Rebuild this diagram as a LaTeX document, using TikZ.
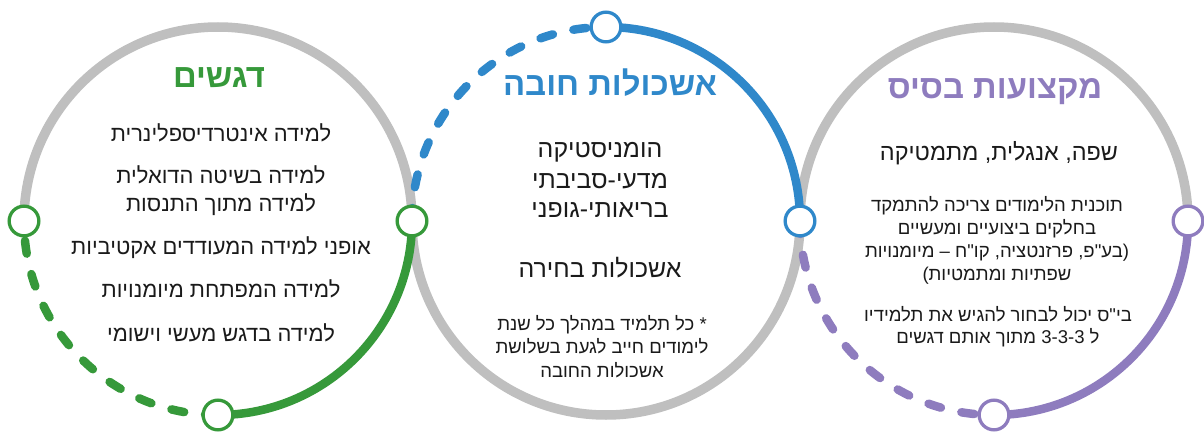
\documentclass[tikz,border=0pt]{standalone}
\usepackage{fontspec}
\setmainfont{Liberation Sans}[Script=Hebrew, Ligatures=TeXOff]
\TeXXeTstate=1
\newcommand\rl[1]{\beginR #1\endR}

\definecolor{ringgray}{HTML}{BFBFBF}
\definecolor{grn}{HTML}{36993A}
\definecolor{blu}{HTML}{2F88CA}
\definecolor{prp}{HTML}{8E7CBE}
\definecolor{ink}{HTML}{1A1A1A}

\tikzset{
  ring/.style={draw=ringgray, line width=9.5bp},
  solidarc/.style={line width=8.5bp},
  dasharc/.style={line width=8.5bp, line cap=round, dash pattern=on 13bp off 21bp},
  knot/.style={circle, fill=white, line width=3.3bp, minimum size=29.7bp, inner sep=0pt},
  title/.style={font=\bfseries\fontsize{33}{33}\selectfont, anchor=base, inner sep=0pt},
  lefttext/.style={font=\fontsize{22}{22}\selectfont, anchor=base, inner sep=0pt, text=ink},
  midtext/.style={font=\fontsize{25}{25}\selectfont, anchor=base, inner sep=0pt, text=ink},
  bigtext/.style={font=\fontsize{23.5}{23.5}\selectfont, anchor=base, inner sep=0pt, text=ink},
  smalltext/.style={font=\fontsize{18.6}{18.6}\selectfont, anchor=base, inner sep=0pt, text=ink},
}

\begin{document}
\begin{tikzpicture}[x=1bp, y=1bp]
\useasboundingbox (0,0) rectangle (1204,432);

% circle centres and the points where the rings meet
\def\rad{194}
\coordinate (cL) at (218,211);
\coordinate (cM) at (606,211);
\coordinate (cR) at (994,211);
\coordinate (pLw) at (24,211);
\coordinate (pLs) at (218,17);
\coordinate (pLM) at (412,211);
\coordinate (pMn) at (606,405);
\coordinate (pMR) at (800,211);
\coordinate (pRs) at (994,17);
\coordinate (pRe) at (1188,211);

% grey halves of the rings
\draw[ring] (pLM) arc[start angle=0, end angle=180, radius=\rad];
\draw[ring] (pLM) arc[start angle=180, end angle=360, radius=\rad];
\draw[ring] (pMR) arc[start angle=180, end angle=0, radius=\rad];

% coloured quarter arcs
\draw[solidarc, draw=grn] (pLM) arc[start angle=0, end angle=-90, radius=\rad];
\draw[dasharc, draw=grn] (pLs) arc[start angle=-90, end angle=-180, radius=\rad];
\draw[dasharc, draw=blu] (pLM) arc[start angle=180, end angle=90, radius=\rad];
\draw[solidarc, draw=blu] (pMn) arc[start angle=90, end angle=0, radius=\rad];
\draw[dasharc, draw=prp] (pMR) arc[start angle=180, end angle=270, radius=\rad];
\draw[solidarc, draw=prp] (pRs) arc[start angle=270, end angle=360, radius=\rad];

% junction markers
\node[knot, draw=grn] (kLw) at (pLw) {};
\node[knot, draw=grn] (kLs) at (pLs) {};
\node[knot, draw=grn] (kLM) at (pLM) {};
\node[knot, draw=blu] (kMn) at (pMn) {};
\node[knot, draw=blu] (kMR) at (pMR) {};
\node[knot, draw=prp] (kRs) at (pRs) {};
\node[knot, draw=prp] (kRe) at (pRe) {};

% left circle
\node[title, text=grn] (tL) at (219,345) {\rl{דגשים}};
\node[lefttext] (l1) at (221,291) {\rl{למידה אינטרדיספלינרית}};
\node[lefttext] (l2) at (221,249) {\rl{למידה בשיטה הדואלית}};
\node[lefttext] (l3) at (221,221) {\rl{למידה מתוך התנסות}};
\node[lefttext] (l4) at (221,178) {\rl{אופני למידה המעודדים אקטיביות}};
\node[lefttext] (l5) at (221,135) {\rl{למידה המפתחת מיומנויות}};
\node[lefttext] (l6) at (221,91) {\rl{למידה בדגש מעשי וישומי}};

% middle circle
\node[title, text=blu] (tM) at (610,337) {\rl{אשכולות חובה}};
\node[midtext] (m1) at (600,275) {\rl{הומניסטיקה}};
\node[midtext] (m2) at (600,244) {\rl{מדעי-סביבתי}};
\node[midtext] (m3) at (600,215) {\rl{בריאותי-גופני}};
\node[midtext] (m4) at (600,155) {\rl{אשכולות בחירה}};
\node[smalltext] (m5) at (602,102) {\rl{* כל תלמיד במהלך כל שנת}};
\node[smalltext] (m6) at (602,79) {\rl{לימודים חייב לגעת בשלושת}};
\node[smalltext] (m7) at (602,55) {\rl{אשכולות החובה}};

% right circle
\node[title, text=prp] (tR) at (995,334) {\rl{מקצועות בסיס}};
\node[bigtext] (r1) at (999,272) {\rl{שפה, אנגלית, מתמטיקה}};
\node[smalltext] (r2) at (997,221) {\rl{תוכנית הלימודים צריכה להתמקד}};
\node[smalltext] (r3) at (997,198) {\rl{בחלקים ביצועיים ומעשיים}};
\node[smalltext] (r4) at (997,175) {\rl{(בע"פ, פרזנטציה, קו"ח – מיומנויות}};
\node[smalltext] (r5) at (997,152) {\rl{שפתיות ומתמטיות)}};
\node[smalltext] (r6) at (998,111) {\rl{בי"ס יכול לבחור להגיש את תלמידיו}};
\node[smalltext] (r7) at (998,89) {\rl{ל \beginL 3-3-3\endL{} מתוך אותם דגשים}};
\end{tikzpicture}
\end{document}
